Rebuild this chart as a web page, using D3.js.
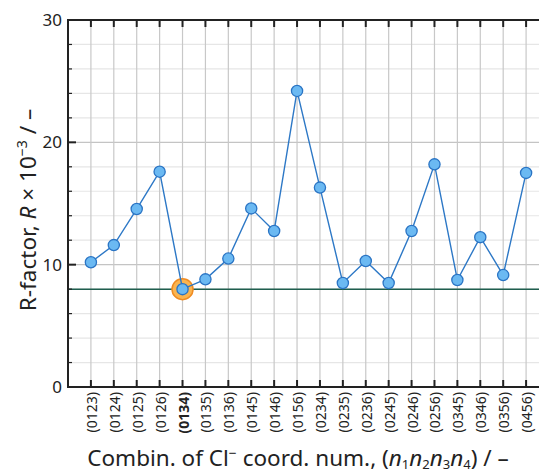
<!DOCTYPE html>
<html><head><meta charset="utf-8">
<script src="https://cdn.jsdelivr.net/npm/d3@7"></script>
<style>body{margin:0;background:#fff;} text{font-family:"Noto Sans","Open Sans",sans-serif;}</style>
</head><body><svg id="c" width="539" height="475"></svg>
<script>
const categories = ["(0123)","(0124)","(0125)","(0126)","(0134)","(0135)","(0136)","(0145)","(0146)","(0156)","(0234)","(0235)","(0236)","(0245)","(0246)","(0256)","(0345)","(0346)","(0356)","(0456)"];
const rValues = [10.2,11.6,14.55,17.6,8.0,8.8,10.5,14.6,12.75,24.2,16.3,8.5,10.3,8.5,12.75,18.2,8.75,12.25,9.15,17.5];
const bestCategory = "(0134)";
const referenceLevel = 8.0;
const yMajorTicks = [0,10,20,30];
const yMinorTicks = [2,4,6,8,12,14,16,18,22,24,26,28];

const svg = d3.select("#c");
const L = 68, T = 20, B = 387, R = 549;
const x = d3.scaleLinear().domain([-1, categories.length]).range([L, R]);
const y = d3.scaleLinear().domain([0,30]).range([B, T]);
const W = 539;

const g = svg.append("g");
svg.append("defs").append("clipPath").attr("id","clip").append("rect").attr("x",L).attr("y",T).attr("width",W-L).attr("height",B-T);
const pg = g.append("g").attr("clip-path","url(#clip)");

// horizontal grid
pg.selectAll(".hmin").data(yMinorTicks).join("line").attr("x1",L).attr("x2",W).attr("y1",d=>y(d)).attr("y2",d=>y(d)).attr("stroke","#e6e6e6").attr("stroke-width",1.2);
pg.selectAll(".hmaj").data([10,20]).join("line").attr("x1",L).attr("x2",W).attr("y1",d=>y(d)).attr("y2",d=>y(d)).attr("stroke","#c4c4c4").attr("stroke-width",1.2);
// vertical grid
pg.selectAll(".v").data(categories).join("line").attr("x1",(d,i)=>x(i)).attr("x2",(d,i)=>x(i)).attr("y1",T).attr("y2",B).attr("stroke","#c8c8c8").attr("stroke-width",1.2);

// reference line
pg.append("line").attr("x1",L).attr("x2",W).attr("y1",y(referenceLevel)).attr("y2",y(referenceLevel)).attr("stroke","#1f5e4e").attr("stroke-width",1.5);

// highlight
const bi = categories.indexOf(bestCategory);
pg.append("circle").attr("cx",x(bi)).attr("cy",y(rValues[bi])).attr("r",10.5).attr("fill","#fbb44f").attr("stroke","#f08c22").attr("stroke-width",1.5);

// line
const line = d3.line().x((d,i)=>x(i)).y(d=>y(d));
pg.append("path").datum(rValues).attr("d",line).attr("fill","none").attr("stroke","#2d78c6").attr("stroke-width",1.4);
pg.selectAll(".pt").data(rValues).join("circle").attr("cx",(d,i)=>x(i)).attr("cy",d=>y(d)).attr("r",5.6).attr("fill","#6bb9f2").attr("stroke","#2a74c4").attr("stroke-width",1.3);

// axes
const axisG = g.append("g");
axisG.append("line").attr("x1",L).attr("x2",W).attr("y1",B).attr("y2",B).attr("stroke","#222").attr("stroke-width",2);
axisG.append("line").attr("x1",L).attr("x2",W).attr("y1",T).attr("y2",T).attr("stroke","#222").attr("stroke-width",2);
axisG.append("line").attr("x1",L).attr("x2",L).attr("y1",T-1).attr("y2",B+1).attr("stroke","#222").attr("stroke-width",2);

axisG.selectAll(".bt").data(categories).join("line").attr("x1",(d,i)=>x(i)).attr("x2",(d,i)=>x(i)).attr("y1",B).attr("y2",B-7).attr("stroke","#222").attr("stroke-width",2);
axisG.selectAll(".tt").data(categories).join("line").attr("x1",(d,i)=>x(i)).attr("x2",(d,i)=>x(i)).attr("y1",T).attr("y2",T+7).attr("stroke","#222").attr("stroke-width",2);
axisG.selectAll(".lmaj").data(yMajorTicks).join("line").attr("x1",L).attr("x2",L+8).attr("y1",d=>y(d)).attr("y2",d=>y(d)).attr("stroke","#222").attr("stroke-width",2);
axisG.selectAll(".lmin").data(yMinorTicks).join("line").attr("x1",L).attr("x2",L+4).attr("y1",d=>y(d)).attr("y2",d=>y(d)).attr("stroke","#222").attr("stroke-width",1.2);

// y labels
axisG.selectAll(".yl").data(yMajorTicks).join("text").attr("x",L-6).attr("y",d=>y(d)).attr("dy","0.36em").attr("text-anchor","end").attr("font-size",17).attr("fill","#222").text(d=>d);

// x labels
axisG.selectAll(".xl").data(categories).join("text")
  .attr("transform",(d,i)=>`translate(${x(i)+6},${B+5}) rotate(-90)`)
  .attr("text-anchor","end").attr("font-size",14).attr("fill","#222")
  .attr("font-weight",d=>d===bestCategory?"bold":"normal")
  .attr("font-family",d=>d===bestCategory?"'DejaVu Serif',serif":null)
  .text(d=>d);

// y title
const yt = g.append("text").attr("transform","translate(36,210) rotate(-90)").attr("text-anchor","middle").attr("font-size",22.5).attr("fill","#222");
yt.append("tspan").text("R-factor, ");
yt.append("tspan").attr("font-style","italic").text("R");
yt.append("tspan").text(" × 10");
yt.append("tspan").attr("font-size",14).attr("dy",-9).text("−3");
yt.append("tspan").attr("dy",9).text(" / –");

// x title
const xt = g.append("text").attr("x",298).attr("y",466).attr("text-anchor","middle").attr("font-size",22.5).attr("fill","#222");
xt.append("tspan").text("Combin. of Cl");
xt.append("tspan").attr("font-size",14).attr("dy",-8).text("−");
xt.append("tspan").attr("dy",8).text(" coord. num., (");
["1","2","3","4"].forEach((k,j)=>{
  xt.append("tspan").attr("font-style","italic").attr("dy", j===0?0:-3).text("n");
  xt.append("tspan").attr("font-size",13).attr("dy",3).text(k);
});
xt.append("tspan").attr("dy",-3).text(") / –");
</script></body></html>
